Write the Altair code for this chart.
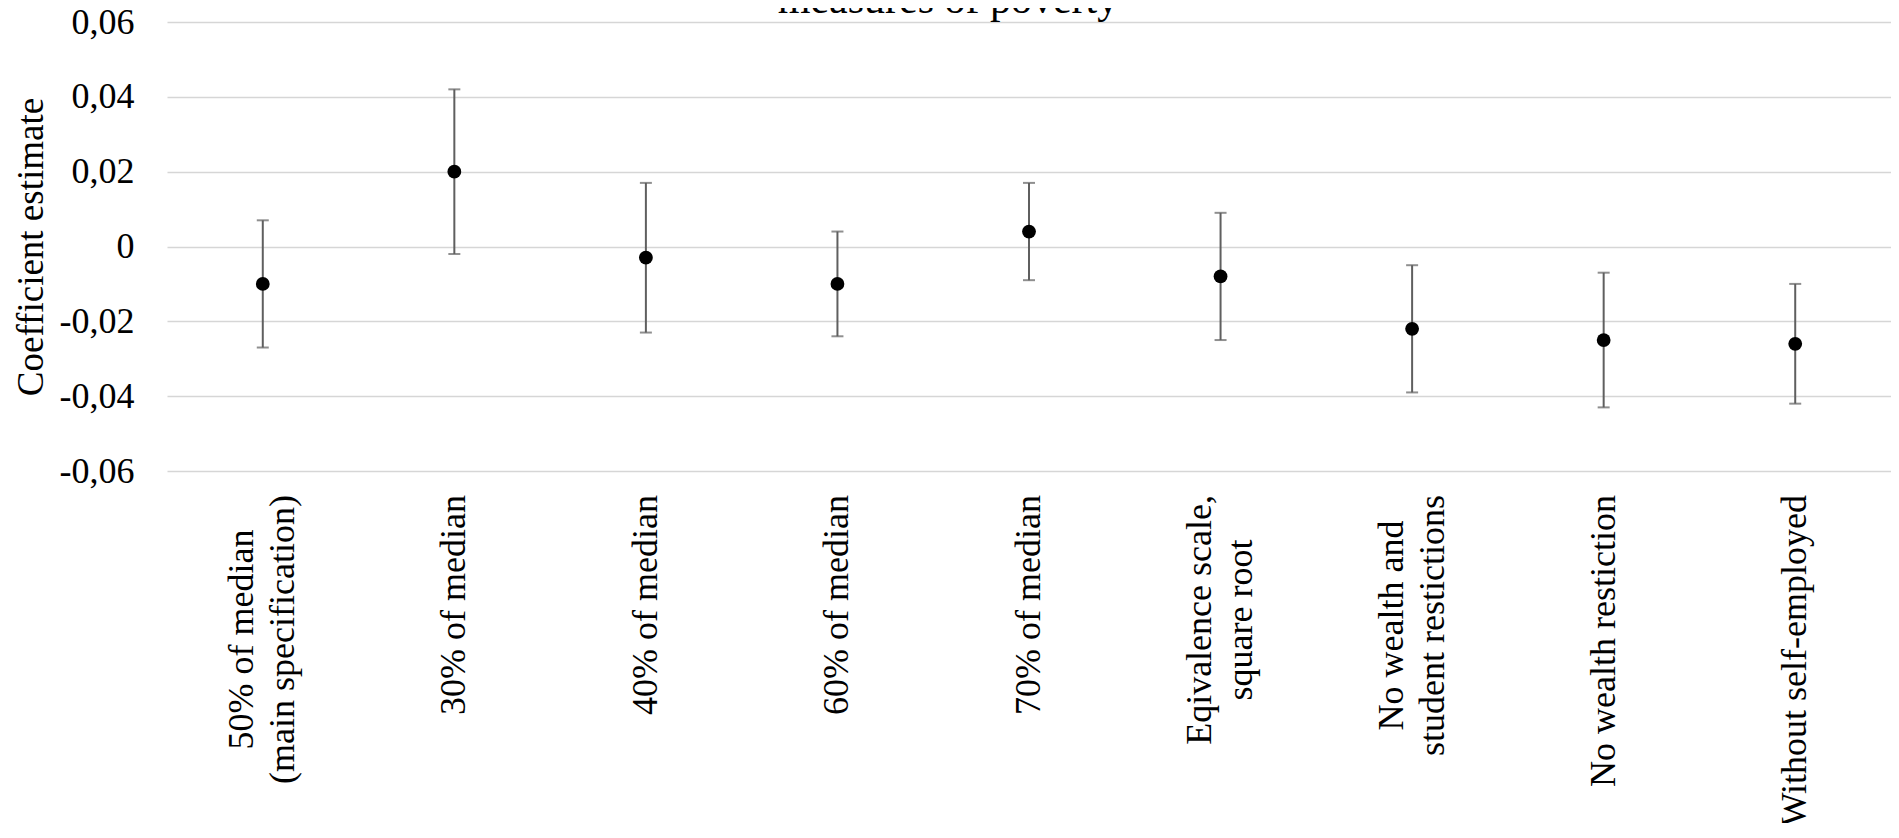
import altair as alt
import pandas as pd

# ---- data ----
categories = [
    "50% of median\n(main specification)",
    "30% of median",
    "40% of median",
    "60% of median",
    "70% of median",
    "Eqivalence scale,\nsquare root",
    "No wealth and\nstudent restictions",
    "No wealth restiction",
    "Without self-employed",
]
estimates = [-0.010, 0.020, -0.003, -0.010, 0.004, -0.008, -0.022, -0.025, -0.026]
lower = [-0.027, -0.002, -0.023, -0.024, -0.009, -0.025, -0.039, -0.043, -0.042]
upper = [0.007, 0.042, 0.017, 0.004, 0.017, 0.009, -0.005, -0.007, -0.010]
y_ticks = [-0.06, -0.04, -0.02, 0, 0.02, 0.04, 0.06]
title_text = ["measures of poverty"]

FONT = "Liberation Serif"
LABEL_SIZE = 36
LINE_HEIGHT = 41
PLOT_H = 449

# approximate Times widths (1/1000 em), used to centre the lines of two-line labels
_W = {" ": 250, "%": 833, "(": 333, ")": 333, ",": 250, "-": 333,
      "a": 444, "b": 500, "c": 444, "d": 500, "e": 444, "f": 333, "g": 500,
      "h": 500, "i": 278, "j": 278, "k": 500, "l": 278, "m": 778, "n": 500,
      "o": 500, "p": 500, "q": 500, "r": 333, "s": 389, "t": 278, "u": 500,
      "v": 500, "w": 722, "x": 500, "y": 500, "z": 444,
      "E": 611, "N": 722, "W": 944}


def _tw(s):
    return sum(_W.get(c, 500) for c in s) * LABEL_SIZE / 1000.0


df = pd.DataFrame({"cat": categories, "estimate": estimates, "lower": lower, "upper": upper})

# one row per label line: lines of a label are centred on each other
rows = []
for c in categories:
    lines = c.split("\n")
    m = max(_tw(l) for l in lines)
    n = len(lines)
    for j, l in enumerate(lines):
        rows.append({"cat": c, "line": l,
                     "xoff": (j - (n - 1) / 2) * LINE_HEIGHT,
                     "yoff": (m - _tw(l)) / 2})
label_df = pd.DataFrame(rows)

x_scale = alt.Scale(type="point", padding=0.5, domain=categories)
x_enc = alt.X(
    "cat:N",
    sort=categories,
    scale=x_scale,
    axis=alt.Axis(title=None, labels=False, ticks=False, tickSize=0, domain=False, grid=False),
)

y_axis = alt.Axis(
    values=y_ticks,
    labelExpr="datum.value == 0 ? '0' : replace(replace(format(datum.value, '.2f'), '.', ','), '\u2212', '-')",
    labelFont=FONT,
    labelFontSize=36,
    labelColor="black",
    labelPadding=33,
    labelFlush=False,
    labelOverlap=False,
    ticks=False,
    tickSize=0,
    domain=False,
    grid=True,
    gridColor="#d6d6d6",
    gridWidth=1.7,
    title="Coefficient estimate",
    titleFont=FONT,
    titleFontSize=37,
    titleFontWeight="normal",
    titleColor="black",
    titleAngle=270,
    titleAlign="center",
    titleBaseline="alphabetic",
    titleX=-125,
    titleY=224.5,
)
y_scale = alt.Scale(domain=[-0.06, 0.06], nice=False, zero=False)

base = alt.Chart(df)

bars = base.mark_rule(color="#5f5f5f", strokeWidth=2).encode(
    x=x_enc,
    y=alt.Y("lower:Q", scale=y_scale, axis=y_axis),
    y2="upper:Q",
)
cap_lo = base.mark_tick(color="#5f5f5f", size=12, thickness=2).encode(
    x=x_enc,
    y=alt.Y("lower:Q", scale=y_scale, axis=y_axis),
)
cap_hi = base.mark_tick(color="#5f5f5f", size=12, thickness=2).encode(
    x=x_enc,
    y=alt.Y("upper:Q", scale=y_scale, axis=y_axis),
)
points = base.mark_circle(color="black", opacity=1, size=190).encode(
    x=x_enc,
    y=alt.Y("estimate:Q", scale=y_scale, axis=y_axis),
)

# category labels below the plot, rotated, lines centred on each other
cat_labels = alt.Chart(label_df).mark_text(
    font=FONT,
    fontSize=LABEL_SIZE,
    color="black",
    angle=270,
    align="right",
    baseline="middle",
).encode(
    x=alt.X("cat:N", sort=categories, scale=x_scale, axis=None),
    xOffset=alt.XOffset("xoff:Q", scale=None),
    y=alt.value(PLOT_H + 24),
    yOffset=alt.YOffset("yoff:Q", scale=None),
    text="line:N",
)

# chart title (its upper part lies above the picture, as in the reference)
title = alt.Chart(pd.DataFrame({"t": title_text})).mark_text(
    font=FONT,
    fontSize=42,
    color="black",
    align="center",
    baseline="alphabetic",
).encode(text="t:N", x=alt.value(781), y=alt.value(-9))

chart = (
    alt.layer(bars, cap_lo, cap_hi, points, cat_labels, title)
    .properties(
        width=1724,
        height=PLOT_H,
        autosize=alt.AutoSizeParams(type="none"),
        padding={"left": 159, "top": 14, "right": 0, "bottom": 352},
        background="white",
    )
    .configure_view(strokeWidth=0)
)

chart.save("out.html", embed_options={"renderer": "svg", "actions": False})
